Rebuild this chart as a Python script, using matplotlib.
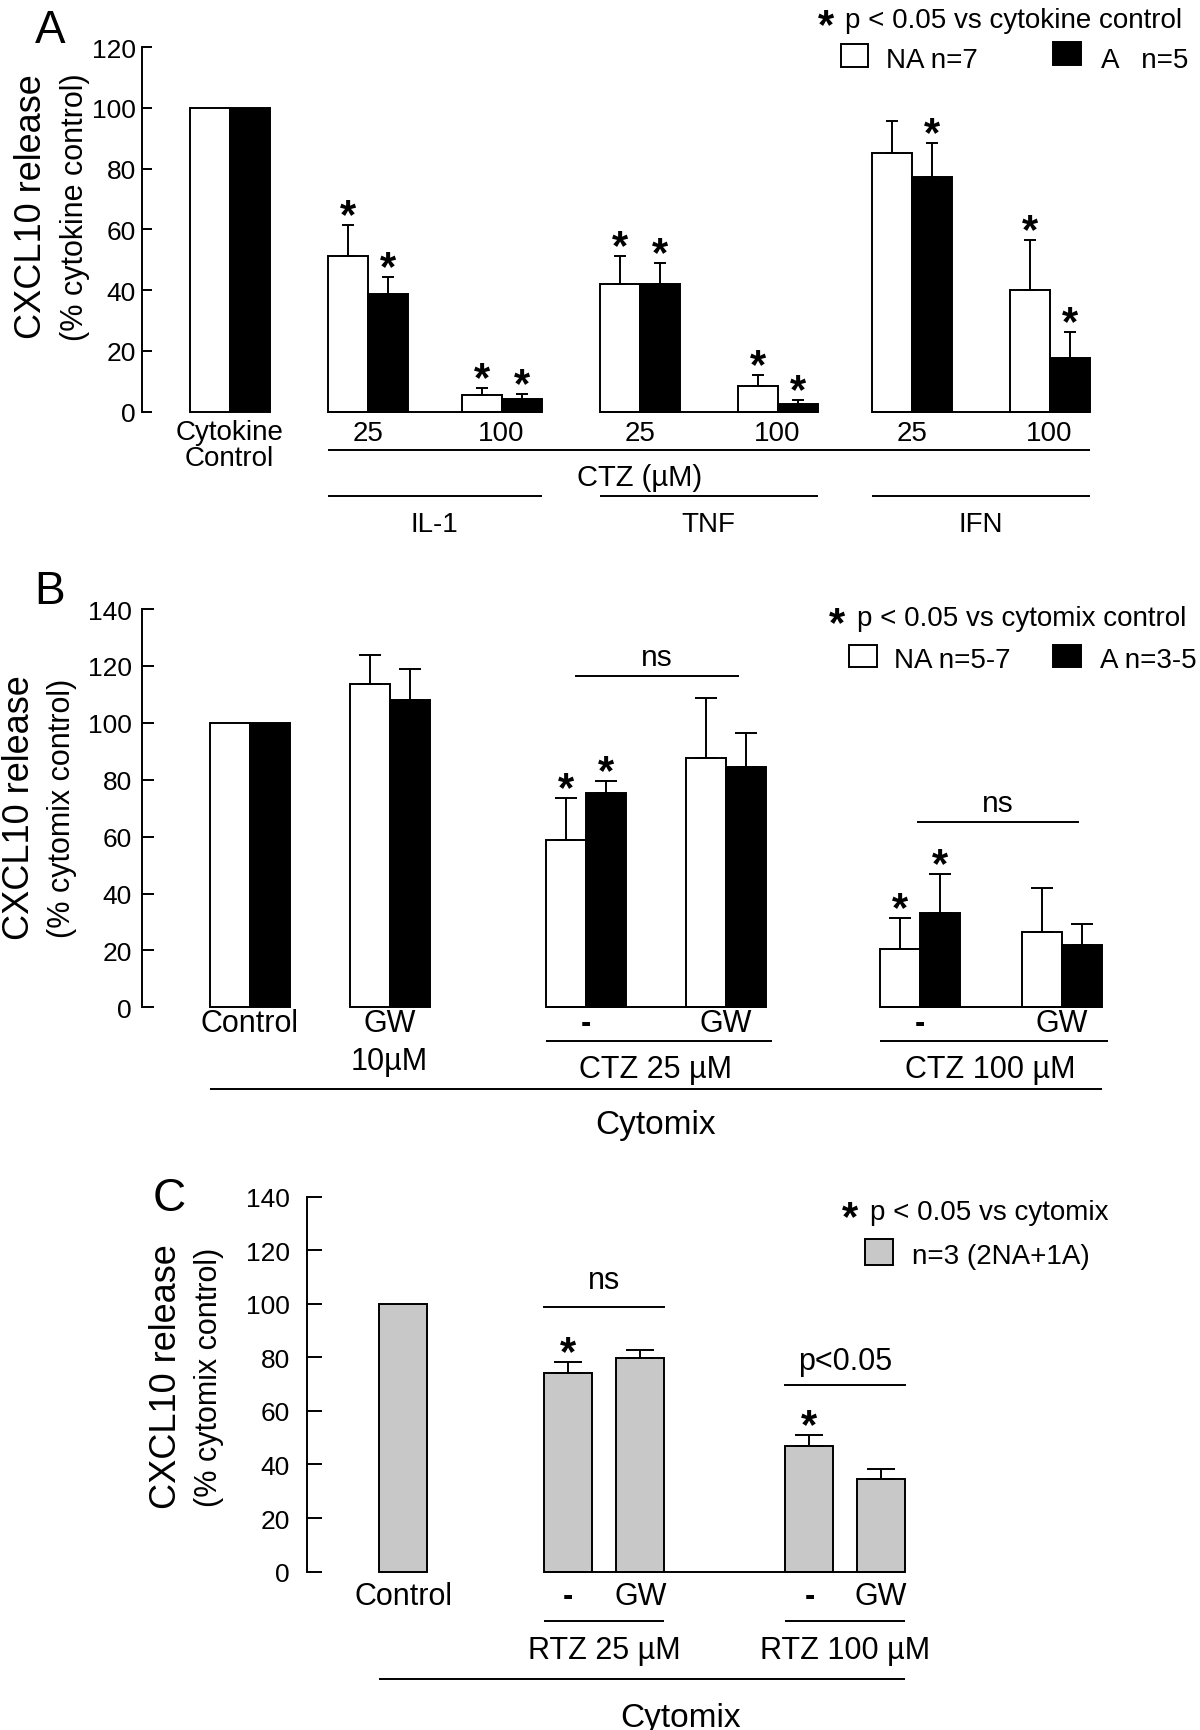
import numpy as np
import matplotlib
matplotlib.use("Agg")
import matplotlib.pyplot as plt
import matplotlib.transforms as mtransforms
from matplotlib.patches import Rectangle

plt.rcParams['font.family'] = ['Liberation Sans', 'DejaVu Sans']

W, H = 1200, 1731
LW = 1.4

# panel A: CXCL10 release (% cytokine control)
a_labels = ["25", "100", "25", "100", "25", "100"]
a_pos = [0, 3.45, 6.8, 10.25, 13.7, 17.05, 20.5]
a_na = [100, 51.2, 5.3, 42, 8.5, 85.3, 40]
a_na_err = [0, 10.3, 2.6, 9.2, 3.5, 10.5, 16.4]
a_a = [100, 38.8, 4.1, 42, 2.4, 77.3, 17.6]
a_a_err = [0, 5.6, 1.8, 6.9, 1.4, 11.1, 8.5]
a_na_star = [0, 1, 1, 1, 1, 0, 1]
a_a_star = [0, 1, 1, 1, 1, 1, 1]
a_cytokines = ["IL-1", "TNF", "IFN"]

# panel B: CXCL10 release (% cytomix control)
b_labels = ["Control", "GW", "-", "GW", "-", "GW"]
b_pos = [0, 3.5, 8.4, 11.9, 16.75, 20.3]
b_na = [100, 113.6, 58.8, 87.5, 20.5, 26.5]
b_na_err = [0, 10.3, 14.9, 21.4, 11, 15.5]
b_a = [100, 108, 75.4, 84.5, 33, 22]
b_a_err = [0, 10.8, 4.3, 12, 14, 7.4]
b_na_star = [0, 0, 1, 0, 1, 0]
b_a_star = [0, 0, 1, 0, 1, 0]
b_groups = ["CTZ 25 µM", "CTZ 100 µM"]

# panel C: CXCL10 release, n=3 (2NA+1A)
c_labels = ["Control", "-", "GW", "-", "GW"]
c_pos = [0, 3.43, 4.94, 8.46, 9.95]
c_vals = [100, 74.2, 79.6, 47.0, 34.5]
c_err = [0, 4.1, 3.1, 4.0, 3.8]
c_star = [0, 1, 0, 1, 0]
c_groups = ["RTZ 25 µM", "RTZ 100 µM"]

fig = plt.figure(figsize=(W / 100, H / 100), dpi=100)


def fy(y):
    return 1 - y / H


def make_axes(left, top, right, bottom, x0, unit, ymax, ticklen, pad):
    ax = fig.add_axes([left / W, fy(bottom), (right - left) / W, (bottom - top) / H])
    ax.set_xlim(x0, x0 + (right - left) / unit)
    ax.set_ylim(0, ymax)
    for s in ("top", "right", "bottom"):
        ax.spines[s].set_visible(False)
    ax.spines["left"].set_linewidth(LW)
    ax.set_xticks([])
    ax.set_yticks(range(0, ymax + 1, 20))
    ax.tick_params(axis="y", direction="in", length=ticklen, width=LW,
                   labelsize=19, pad=pad)
    ax.patch.set_alpha(0)
    return ax


def blend(ax):
    return mtransforms.blended_transform_factory(ax.transData, fig.transFigure)


def atext(ax, x, y, s, size, **kw):
    if s == "-":
        kw.setdefault("fontweight", "bold")
    ax.text(x, fy(y), s, transform=blend(ax), ha="center", va="baseline",
            fontsize=size, **kw)


def aline(ax, x0, x1, y):
    ax.plot([x0, x1], [fy(y), fy(y)], transform=blend(ax), color="k", lw=LW,
            clip_on=False, solid_capstyle="butt")


def bars(ax, xs, vals, errs, stars, color, capsize):
    ax.bar(xs, vals, width=1, color=color, edgecolor="k", lw=LW,
           clip_on=False, zorder=2)
    for x, v, e, s in zip(xs, vals, errs, stars):
        if e > 0:
            ax.errorbar([x], [v], yerr=[[0], [e]], fmt="none", ecolor="k",
                        elinewidth=LW, capsize=capsize, capthick=LW,
                        clip_on=False, zorder=3)
        if s:
            ax.annotate("*", (x, v + e), xytext=(0, -1.5), textcoords="offset points",
                        ha="center", va="baseline", fontsize=30, fontweight="bold")


def fig_text(x, y, s, size, ha="left", **kw):
    fig.text(x / W, fy(y), s, fontsize=size, ha=ha, va="baseline", **kw)


def fig_box(x0, y0, x1, y1, fc):
    fig.patches.append(Rectangle((x0 / W, fy(y1)), (x1 - x0) / W, (y1 - y0) / H,
                                 transform=fig.transFigure, fc=fc, ec="k", lw=LW))


def ylabels(x1, x2, y, sub):
    fig.text(x1 / W, fy(y), "CXCL10 release", rotation=90, ha="center",
             va="center", fontsize=26)
    fig.text(x2 / W, fy(y), sub, rotation=90, ha="center", va="center", fontsize=22)


# ---------------- panel A ----------------
axA = make_axes(141.6, 48.2, 1100, 412.5, -2.2, 40, 120, 7, 4)
pa = np.array(a_pos, float)
bars(axA, pa - 0.5, a_na, a_na_err, a_na_star, "white", 4.5)
bars(axA, pa + 0.5, a_a, a_a_err, a_a_star, "black", 4.5)
atext(axA, pa[0], 440, "Cytokine", 20)
atext(axA, pa[0], 466, "Control", 20)
for p, lab in zip(pa[1:], a_labels):
    atext(axA, p, 441, lab, 20)
aline(axA, pa[1] - 1, pa[-1] + 1, 450.7)
atext(axA, pa[3], 486, "CTZ (µM)", 21)
for g, name in enumerate(a_cytokines):
    i, j = 1 + 2 * g, 2 + 2 * g
    axA.plot([pa[i] - 1, pa[j] + 1], [0, 0], color="k", lw=LW, clip_on=False,
             solid_capstyle="butt")
    aline(axA, pa[i] - 1, pa[j] + 1, 497)
    atext(axA, (pa[i] + pa[j]) / 2, 532, name, 20)
ylabels(31.6, 74.6, 207, "(% cytokine control)")
fig_text(50, 43, "A", 33, ha="center")
fig_text(825.5, 38, "*", 30, ha="center", fontweight="bold")
fig_text(845, 28, "p < 0.05 vs cytokine control", 20)
fig_box(841, 44.6, 868, 67.9, "white")
fig_text(886.5, 68, "NA n=7", 20)
fig_box(1053, 43, 1081, 66, "black")
fig_text(1101, 68, "A   n=5", 20)

# ---------------- panel B ----------------
axB = make_axes(141.6, 610, 1110, 1008.4, -2.7, 40, 140, 8.3, 7)
pb = np.array(b_pos, float)
bars(axB, pb - 0.5, b_na, b_na_err, b_na_star, "white", 8)
bars(axB, pb + 0.5, b_a, b_a_err, b_a_star, "black", 8)
for p, lab in zip(pb, b_labels):
    atext(axB, p, 1032, lab, 22)
atext(axB, pb[1], 1070, "10µM", 22)
for g, name in enumerate(b_groups):
    i, j = 2 + 2 * g, 3 + 2 * g
    axB.plot([pb[i] - 1, pb[j] + 1], [0, 0], color="k", lw=LW, clip_on=False,
             solid_capstyle="butt")
    aline(axB, pb[i] - 1, pb[j] + 1.15, 1042)
    atext(axB, (pb[i] + pb[j]) / 2, 1078, name, 22)
for (x0, x1), yv, off in [((8.15, 12.2), 116.3, 8), ((16.7, 20.7), 65, 8.5)]:
    axB.plot([x0, x1], [yv, yv], color="k", lw=LW, clip_on=False)
    axB.annotate("ns", ((x0 + x1) / 2, yv), xytext=(0, off), textcoords="offset points",
                 ha="center", va="baseline", fontsize=21.5)
aline(axB, pb[0] - 1, pb[-1] + 1, 1090)
atext(axB, (pb[0] + pb[-1]) / 2, 1134, "Cytomix", 24)
ylabels(20, 62, 808, "(% cytomix control)")
fig_text(50, 604, "B", 33, ha="center")
fig_text(837, 636, "*", 30, ha="center", fontweight="bold")
fig_text(856.8, 626, "p < 0.05 vs cytomix control", 20)
fig_box(849, 646, 876.6, 668, "white")
fig_text(894, 668, "NA n=5-7", 20)
fig_box(1053, 646, 1081, 668, "black")
fig_text(1100, 668, "A n=3-5", 20)

# ---------------- panel C ----------------
axC = make_axes(306.7, 1197.5, 1000, 1572.6, -2.0125, 48, 140, 10.5, 12)
pc = np.array(c_pos, float)
bars(axC, pc, c_vals, c_err, c_star, "#c8c8c8", 10.4)
axC.plot([pc[1] - 0.5, pc[-1] + 0.5], [0, 0], color="k", lw=LW, clip_on=False,
         solid_capstyle="butt")
for p, lab in zip(pc, c_labels):
    atext(axC, p, 1605, lab, 22)
for g, name in enumerate(c_groups):
    i, j = 1 + 2 * g, 2 + 2 * g
    aline(axC, pc[i] - 0.5, pc[j] + 0.5, 1621.8)
    atext(axC, (pc[i] + pc[j]) / 2, 1659, name, 22)
for (i, j), yv, txt, off in [((1, 2), 98.7, "ns", 13.5), ((3, 4), 69.7, "p<0.05", 11.5)]:
    axC.plot([pc[i] - 0.5, pc[j] + 0.5], [yv, yv], color="k", lw=LW, clip_on=False)
    axC.annotate(txt, ((pc[i] + pc[j]) / 2, yv), xytext=(0, off),
                 textcoords="offset points", ha="center", va="baseline", fontsize=22)
aline(axC, pc[0] - 0.5, pc[-1] + 0.5, 1680)
atext(axC, (pc[0] + pc[-1]) / 2 + 0.8, 1727, "Cytomix", 24)
ylabels(167, 209, 1377, "(% cytomix control)")
fig_text(169, 1211, "C", 33, ha="center")
fig_text(849.5, 1230, "*", 30, ha="center", fontweight="bold")
fig_text(869.8, 1220, "p < 0.05 vs cytomix", 20)
fig_box(864.8, 1240, 892.8, 1265.6, "#c8c8c8")
fig_text(912, 1264, "n=3 (2NA+1A)", 20)

fig.savefig("out.png", dpi=100, facecolor="white")
